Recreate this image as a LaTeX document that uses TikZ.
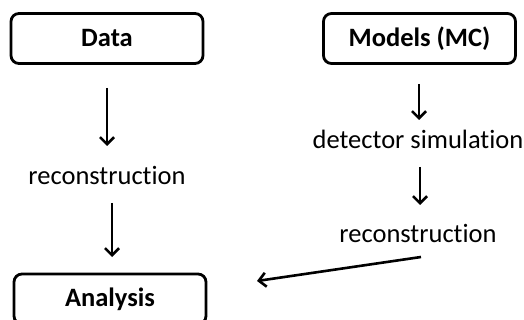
\documentclass[tikz,border=0pt]{standalone}
\usepackage{fontspec}
\setmainfont{Carlito}[Ligatures=NoCommon]
\usetikzlibrary{arrows.meta}
\begin{document}
\begin{tikzpicture}[x=1pt,y=-1pt,
  box/.style={draw, line width=2.8pt, rounded corners=8pt, minimum width=192pt, minimum height=50pt, inner sep=0pt, font=\fontsize{26.5}{30}\selectfont\bfseries},
  lbl/.style={inner sep=0pt, font=\fontsize{26.5}{30}\selectfont},
  arr/.style={line width=2.6pt, -{Straight Barb[length=7pt,width=14pt,line width=2.6pt]}}]
\useasboundingbox (0,0) rectangle (524,320);
\clip (0,0) rectangle (524,320);
\node[box] (data) at (107,38.5) {Data};
\node[box] (models) at (419.5,38.5) {Models (MC)};
\node[box] (analysis) at (110,299) {Analysis};
\node[lbl] (rec1) at (107,175) {reconstruction};
\node[lbl] (det) at (418,139) {detector simulation};
\node[lbl] (rec2) at (418,233) {reconstruction};
\coordinate (a1s) at (107,88);
\coordinate (a1e) at (107,146);
\coordinate (a2s) at (112,203);
\coordinate (a2e) at (112,257);
\coordinate (b1s) at (419,84);
\coordinate (b1e) at (419,120);
\coordinate (b2s) at (420,167);
\coordinate (b2e) at (420,205);
\coordinate (cs) at (421,257);
\coordinate (ce) at (257,281);
\draw[arr] (a1s) -- (a1e);
\draw[arr] (a2s) -- (a2e);
\draw[arr] (b1s) -- (b1e);
\draw[arr] (b2s) -- (b2e);
\draw[arr] (cs) -- (ce);
\end{tikzpicture}
\end{document}
